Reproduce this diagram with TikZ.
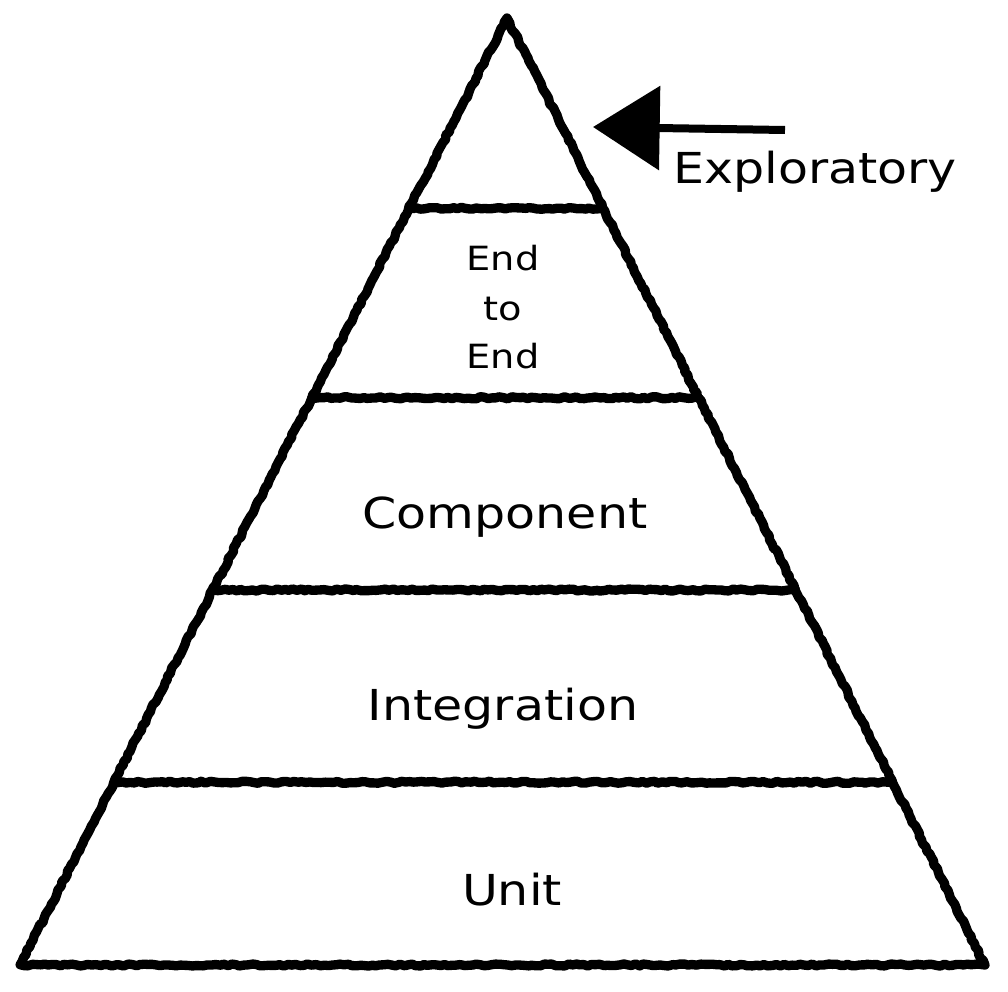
\documentclass[tikz,border=0pt]{standalone}
\usepackage{fontspec}
\usetikzlibrary{calc,arrows.meta,decorations.pathmorphing}
\newfontfamily\chalkfont[FakeStretch=1.15]{DejaVu Sans}

\tikzset{
	chalk/.style={line width=7pt, line join=round, line cap=round,
		decorate, decoration={random steps, segment length=3pt, amplitude=0.8pt}},
	biglabel/.style={anchor=base, inner sep=0pt, font=\chalkfont\fontsize{32}{38}\selectfont},
	smalllabel/.style={anchor=base, inner sep=0pt, font=\chalkfont\fontsize{25}{30}\selectfont}
}

\begin{document}
\begin{tikzpicture}[x=0.75pt, y=-0.75pt]
	\useasboundingbox (0, 0) rectangle (1008, 992);

	\coordinate (apex) at (507, 18);
	\coordinate (bl) at (20, 965);
	\coordinate (br) at (985, 965);

	% outline
	\draw[chalk] (apex) -- (bl) -- (br) -- cycle;

	% levels
	\foreach \t/\n in {0.201/a, 0.401/b, 0.604/c, 0.807/d} {
		\coordinate (l\n) at ($(apex)!\t!(bl)$);
		\coordinate (r\n) at ($(apex)!\t!(br)$);
		\draw[chalk] (l\n) -- (r\n);
	}

	% arrow
	\coordinate (arrowstart) at (785, 130);
	\coordinate (arrowtip) at (593, 127);
	\draw[line width=6pt, -{Triangle[length=50pt, width=62pt]}] (arrowstart) -- (arrowtip);

	\node[biglabel, anchor=base west] (exploratory) at (673, 183) {Exploratory};

	\node[smalllabel] (endone) at (503, 270) {End};
	\node[smalllabel] (to) at (503, 320) {to};
	\node[smalllabel] (endtwo) at (503, 368) {End};

	\node[biglabel] (component) at (505, 528) {Component};
	\node[biglabel] (integration) at (503, 720) {Integration};
	\node[biglabel] (unit) at (512, 905) {Unit};

\end{tikzpicture}
\end{document}
